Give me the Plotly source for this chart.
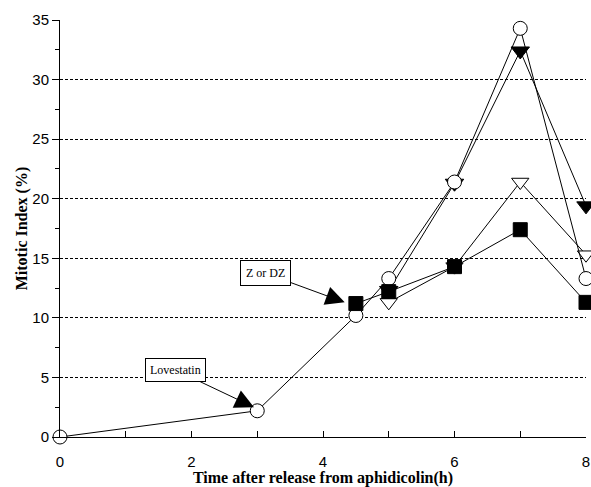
import plotly.graph_objects as go

# Data
x_circle = [0, 3, 4.5, 5, 6, 7, 8]
y_circle = [0, 2.2, 10.2, 13.3, 21.4, 34.3, 13.3]

x_filled_tri = [5, 6, 7, 8]
y_filled_tri = [12.3, 21.3, 32.4, 19.4]

x_open_tri = [5, 6, 7, 8]
y_open_tri = [11.3, 14.3, 21.4, 15.3]

x_square = [4.5, 5, 6, 7, 8]
y_square = [11.2, 12.2, 14.3, 17.4, 11.3]

x_ticks = [0, 2, 4, 6, 8]
y_ticks = [0, 5, 10, 15, 20, 25, 30, 35]

serif = "Liberation Serif, Times New Roman, serif"
narrow = "Liberation Sans Narrow, Arial Narrow, Liberation Sans, sans-serif"

fig = go.Figure()

def add(xs, ys, symbol, fill, size):
    fig.add_trace(go.Scatter(
        x=xs, y=ys, mode="lines+markers",
        line=dict(color="black", width=1),
        marker=dict(symbol=symbol, size=size, color=fill,
                    line=dict(color="black", width=1)),
        cliponaxis=False, showlegend=False, hoverinfo="skip"))

add(x_open_tri, y_open_tri, "triangle-down", "white", 15)
add(x_filled_tri, y_filled_tri, "triangle-down", "black", 16)
add(x_circle, y_circle, "circle", "white", 14)
add(x_square, y_square, "square", "black", 14)

fig.add_annotation(
    x=2.95, y=2.5, xref="x", yref="y", ax=-78, ay=-37,
    text="Lovestatin", showarrow=True, arrowhead=2, arrowsize=3.8,
    arrowwidth=1, arrowcolor="black",
    font=dict(family=serif, size=12, color="black"),
    bgcolor="white", bordercolor="black", borderwidth=1, borderpad=4)

fig.add_annotation(
    x=4.33, y=11.3, xref="x", yref="y", ax=-79, ay=-29,
    text="Z or DZ", showarrow=True, arrowhead=2, arrowsize=3.8,
    arrowwidth=1, arrowcolor="black",
    font=dict(family=serif, size=12, color="black"),
    bgcolor="white", bordercolor="black", borderwidth=1, borderpad=5)

fig.update_layout(
    width=591, height=487,
    margin=dict(l=60, r=5, t=20, b=50),
    paper_bgcolor="white", plot_bgcolor="white",
    showlegend=False,
)

fig.update_xaxes(
    range=[0, 8], tickvals=x_ticks, ticks="inside", ticklen=6,
    tickcolor="black", showline=True, linecolor="black", linewidth=1,
    showgrid=False, zeroline=False, automargin=False,
    minor=dict(tickvals=[1, 3, 5, 7], ticks="inside", ticklen=6, tickcolor="black"),
    tickfont=dict(family=narrow, size=15, color="black"),
    ticklabelstandoff=11, ticklabeloverflow="allow",
    title=dict(text="Time after release from aphidicolin(h)", standoff=0,
               font=dict(family=serif, size=16, color="black", weight="bold")),
)

fig.update_yaxes(
    range=[0, 35], tickvals=y_ticks, ticks="outside", ticklen=7,
    tickcolor="black", showline=True, linecolor="black", linewidth=1,
    showgrid=True, gridcolor="black", gridwidth=1, griddash="3px,2px",
    zeroline=False, automargin=False, ticklabeloverflow="allow",
    minor=dict(tickvals=[2.5, 7.5, 12.5, 17.5, 22.5, 27.5, 32.5],
               ticks="outside", ticklen=4, tickcolor="black", showgrid=False),
    tickfont=dict(family=narrow, size=15, color="black"),
    title=dict(text="Mitotic Index (%)", standoff=0,
               font=dict(family=serif, size=16, color="black", weight="bold")),
)

# Remove the default page margin so the figure sits at the window's corner
fig.write_html(
    "out.html",
    config={"displayModeBar": False},
    post_script="document.body.style.margin='0';document.body.style.overflow='hidden';",
)
